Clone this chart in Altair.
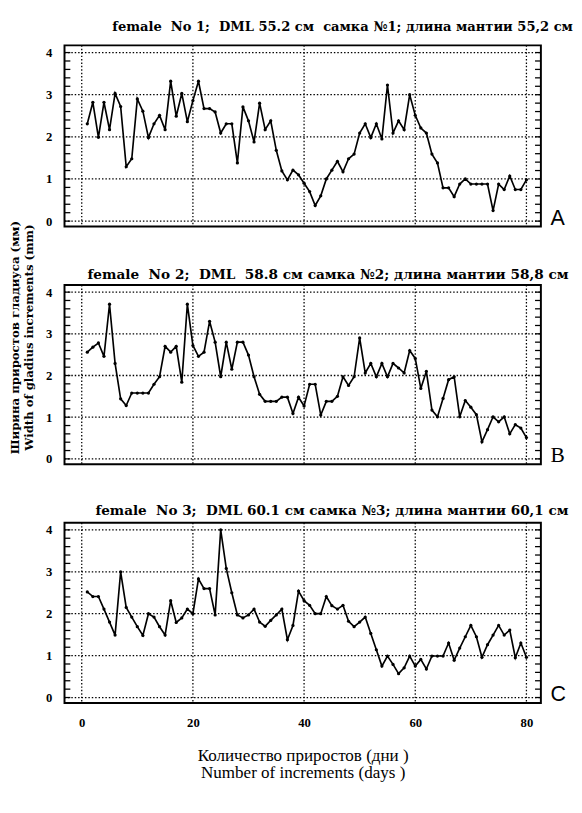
import altair as alt
import pandas as pd

days = list(range(1, 81))

vals_a = [2.31, 2.82, 1.99, 2.82, 2.17, 3.03, 2.72, 1.29, 1.48, 2.90,
          2.61, 1.98, 2.31, 2.51, 2.17, 3.32, 2.49, 3.03, 2.36, 2.86,
          3.32, 2.67, 2.67, 2.59, 2.09, 2.31, 2.31, 1.38, 2.71, 2.38,
          1.88, 2.80, 2.17, 2.38, 1.68, 1.19, 0.98, 1.21, 1.10, 0.90,
          0.70, 0.37, 0.60, 1.00, 1.21, 1.42, 1.17, 1.48, 1.59, 2.09,
          2.31, 1.98, 2.31, 1.95, 3.23, 2.09, 2.38, 2.17, 3.00, 2.51,
          2.21, 2.09, 1.59, 1.38, 0.79, 0.79, 0.58, 0.88, 1.00, 0.88,
          0.88, 0.88, 0.88, 0.25, 0.88, 0.75, 1.07, 0.75, 0.75, 0.98]

vals_b = [2.56, 2.68, 2.78, 2.46, 3.71, 2.29, 1.44, 1.28, 1.58, 1.58,
          1.58, 1.58, 1.79, 1.97, 2.70, 2.56, 2.70, 1.84, 3.71, 2.72,
          2.46, 2.56, 3.30, 2.80, 1.97, 2.80, 2.15, 2.80, 2.80, 2.49,
          1.97, 1.55, 1.38, 1.38, 1.38, 1.48, 1.48, 1.09, 1.48, 1.27,
          1.79, 1.79, 1.05, 1.38, 1.38, 1.50, 1.97, 1.76, 1.97, 2.90,
          2.06, 2.29, 1.97, 2.29, 1.97, 2.29, 2.18, 2.06, 2.60, 2.41,
          1.69, 2.10, 1.17, 1.01, 1.45, 1.90, 1.97, 1.01, 1.40, 1.24,
          1.06, 0.41, 0.70, 1.01, 0.89, 1.01, 0.60, 0.82, 0.74, 0.51]

vals_c = [2.52, 2.41, 2.41, 2.11, 1.80, 1.49, 3.00, 2.15, 1.92, 1.69,
          1.48, 2.00, 1.92, 1.69, 1.49, 2.31, 1.79, 1.90, 2.11, 2.00,
          2.83, 2.60, 2.60, 1.97, 4.00, 3.08, 2.50, 1.97, 1.90, 1.97,
          2.11, 1.80, 1.70, 1.84, 1.97, 2.11, 1.38, 1.72, 2.54, 2.31,
          2.20, 2.00, 2.00, 2.41, 2.19, 2.11, 2.20, 1.82, 1.69, 1.80,
          1.92, 1.53, 1.14, 0.75, 0.99, 0.79, 0.57, 0.71, 0.99, 0.75,
          0.91, 0.68, 0.99, 0.99, 0.99, 1.30, 0.89, 1.18, 1.45, 1.72,
          1.45, 0.96, 1.26, 1.49, 1.72, 1.49, 1.61, 0.95, 1.30, 0.96]

titles = [
    "female\u00a0 No 1;\u00a0 DML 55.2 см\u00a0 самка №1; длина мантии 55,2 см",
    "female\u00a0 No 2;\u00a0 DML\u00a0 58.8 см самка №2; длина мантии 58,8 см",
    "female\u00a0 No 3;\u00a0 DML 60.1 см самка №3; длина мантии 60,1 см",
]
letters = ["A", "B", "C"]
x_ticks = [0, 20, 40, 60, 80]
y_ticks = [0, 1, 2, 3, 4]
minor_ticks = [0.0, 0.2, 0.4, 0.6, 0.8, 1.0, 1.2, 1.4, 1.6, 1.8, 2.0, 2.2,
               2.4, 2.6, 2.8, 3.0, 3.2, 3.4, 3.6, 3.8, 4.0]
y_title = "Ширина приростов гладиуса (мм)\nWidth of gladius increments (mm)"
x_title = ["Количество приростов (дни )", "Number of increments (days )"]

W = 489
SERIF = "Liberation Serif"
WIDE_SERIF = "DejaVu Serif"
DOT = [1.5, 2]


def panel(vals, idx, h, title_dx, title_offset, title_size, letter_font):
    df = pd.DataFrame({"day": days, "value": vals})
    xscale = alt.Scale(domain=[-3.1, 82.6], nice=False, zero=False)
    yscale = alt.Scale(domain=[-0.13, 4.17], nice=False, zero=False)
    if idx == 2:
        xaxis = alt.Axis(values=x_ticks, grid=False, domain=False, ticks=False,
                         labels=True, labelFont=SERIF, labelFontWeight="bold",
                         labelFontSize=13, labelPadding=14, labelColor="black",
                         title=x_title, titleFont=SERIF, titleFontWeight="normal",
                         titleFontSize=17.5, titlePadding=18, titleLineHeight=17.5,
                         titleColor="black")
    else:
        xaxis = alt.Axis(values=x_ticks, grid=False, domain=False, ticks=False,
                         labels=False, title=None)
    yaxis = alt.Axis(values=y_ticks, grid=False, domain=False, ticks=False,
                     format="d", labelFont=SERIF, labelFontWeight="bold",
                     labelFontSize=13, labelPadding=13, labelColor="black",
                     title=None)

    base = alt.Chart(df)
    line = base.mark_line(color="black", strokeWidth=1.7).encode(
        x=alt.X("day:Q", scale=xscale, axis=xaxis),
        y=alt.Y("value:Q", scale=yscale, axis=yaxis),
    )
    pts = base.mark_point(filled=True, color="black", size=11, opacity=1).encode(
        x=alt.X("day:Q", scale=xscale),
        y=alt.Y("value:Q", scale=yscale),
    )
    gx = alt.Chart(pd.DataFrame({"day": x_ticks})).mark_rule(
        color="black", strokeWidth=1.3, strokeDash=DOT).encode(
        x=alt.X("day:Q", scale=xscale), y=alt.value(0), y2=alt.value(h))
    gy = alt.Chart(pd.DataFrame({"value": y_ticks})).mark_rule(
        color="black", strokeWidth=1.3, strokeDash=DOT).encode(
        y=alt.Y("value:Q", scale=yscale), x=alt.value(0), x2=alt.value(W))
    tdf = pd.DataFrame({"value": minor_ticks})
    tl = alt.Chart(tdf).mark_rule(color="black", strokeWidth=1.3).encode(
        y=alt.Y("value:Q", scale=yscale), x=alt.value(0), x2=alt.value(6))
    tr = alt.Chart(tdf).mark_rule(color="black", strokeWidth=1.3).encode(
        y=alt.Y("value:Q", scale=yscale), x=alt.value(W - 6), x2=alt.value(W))
    ldf = pd.DataFrame({"t": [letters[idx]]})
    let = alt.Chart(ldf).mark_text(font=letter_font, fontSize=22, align="left",
                                   baseline="bottom", color="black").encode(
        text="t:N", x=alt.value(W + 10), y=alt.value(h + 3))
    layers = [line, gx, gy, tl, tr, pts, let]
    if idx == 0:
        ydf = pd.DataFrame({"t": [y_title]})
        yt = alt.Chart(ydf).mark_text(
            font=WIDE_SERIF, fontWeight="bold", fontSize=12, angle=270,
            align="center", baseline="middle", lineBreak="\n", lineHeight=15,
            color="black").encode(text="t:N", x=alt.value(-51), y=alt.value(300))
        layers.append(yt)
    return alt.layer(*layers).properties(
        width=W, height=h,
        title=alt.TitleParams(titles[idx], font=WIDE_SERIF, fontWeight="bold",
                              fontSize=title_size, anchor="middle", dx=title_dx,
                              offset=title_offset, frame="group", color="black"),
    )


pa = panel(vals_a, 0, 186, 41, 12, 13.4, "Liberation Sans")
pb = panel(vals_b, 1, 184, 26, 3, 14.0, "Liberation Serif")
pc = panel(vals_c, 2, 185, 30, 4, 13.9, "Liberation Sans")

chart = alt.vconcat(pa, pb, pc, spacing=60, bounds="flush").properties(
    padding={"left": 0, "top": 0, "right": 0, "bottom": 0},
    background="white",
).configure_view(stroke="black", strokeWidth=2).configure_axis(grid=False)

chart.save("out.html", embed_options={"renderer": "svg", "actions": False})
